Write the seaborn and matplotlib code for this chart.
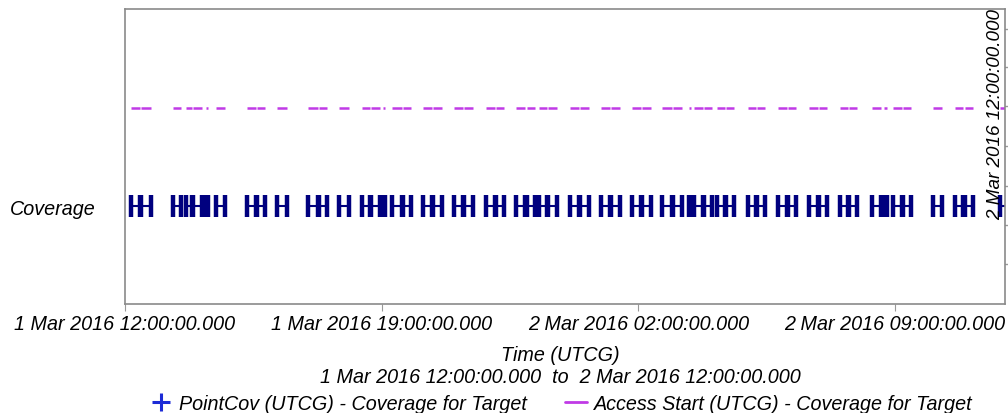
import matplotlib
matplotlib.use('Agg')
import matplotlib.pyplot as plt
import matplotlib.dates as mdates
from matplotlib.lines import Line2D
from matplotlib.ticker import FuncFormatter, FixedLocator
import pandas as pd
import seaborn as sns

# coverage intervals, hours after 1 Mar 2016 12:00 UTCG
cov_start = [0.16, 0.44, 1.31, 1.66, 1.85, 2.21, 2.48, 3.33, 3.60, 4.15,
             4.99, 5.29, 5.84, 6.46, 6.71, 7.04, 7.28, 7.58, 8.13, 8.40,
             8.97, 9.25, 9.85, 10.12, 10.66, 10.96, 11.29, 11.54, 12.14, 12.41,
             12.98, 13.25, 13.83, 14.10, 14.65, 14.95, 15.38, 15.52, 15.79, 16.15,
             16.39, 16.99, 17.24, 17.81, 18.08, 18.65, 18.93, 19.50, 19.75, 20.37,
             20.70, 20.95, 21.22, 22.04, 22.64, 22.91, 23.86]
cov_stop = [0.41, 0.71, 1.53, 1.83, 2.10, 2.26, 2.73, 3.57, 3.82, 4.42,
            5.26, 5.51, 6.11, 6.68, 6.95, 7.09, 7.55, 7.80, 8.37, 8.65,
            9.22, 9.49, 10.09, 10.34, 10.91, 11.18, 11.51, 11.78, 12.38, 12.65,
            13.23, 13.50, 14.07, 14.35, 14.92, 15.19, 15.44, 15.76, 16.01, 16.36,
            16.61, 17.21, 17.45, 18.05, 18.30, 18.90, 19.15, 19.72, 19.96, 20.62,
            20.78, 21.19, 21.44, 22.28, 22.85, 23.13, 24.10]

t0 = pd.Timestamp('2016-03-01 12:00:00')
t1 = pd.Timestamp('2016-03-02 12:00:00')
tick_times = pd.date_range(t0, periods=4, freq='7h')

df = pd.DataFrame({
    'start': t0 + pd.to_timedelta(cov_start, unit='h'),
    'stop': t0 + pd.to_timedelta(cov_stop, unit='h'),
})

sns.set_style('white')
plt.rcParams['font.family'] = ['Liberation Sans', 'DejaVu Sans']
plt.rcParams['font.style'] = 'italic'
plt.rcParams['text.color'] = 'black'
plt.rcParams['xtick.color'] = 'black'
plt.rcParams['ytick.color'] = 'black'
fs = 14.2

fig = plt.figure(figsize=(10.08, 4.14), dpi=100)
ax = fig.add_axes([0.124, 0.263, 0.873, 0.713])

cov_y = 0.332
acc_y = 0.665
navy = '#00007f'
magenta = '#c03ae6'

ax.hlines([cov_y] * len(df), df['start'], df['stop'], color=navy, lw=1.5)
edges = pd.concat([df['start'], df['stop']])
ax.plot(edges, [cov_y] * len(edges), ls='none', marker='|', ms=15.5,
        mew=3.2, color=navy)
ax.hlines([acc_y] * len(df), df['start'], df['stop'], color=magenta, lw=1.8,
          capstyle='butt')

ax.set_xlim(t0, t1)
ax.set_ylim(0, 1)
ax.xaxis.set_major_locator(FixedLocator(mdates.date2num(tick_times)))


def fmt(x, pos):
    d = mdates.num2date(x)
    return f"{d.day} {d:%b %Y %H:%M:%S}.000"


ax.xaxis.set_major_formatter(FuncFormatter(fmt))
ax.tick_params(axis='x', length=5, color='#999999', labelcolor='black',
               labelsize=fs, pad=2, bottom=True)
ax.set_yticks([cov_y])
ax.set_yticklabels(['Coverage'], fontsize=fs)
ax.tick_params(axis='y', length=0, pad=21, labelcolor='black')
for s in ax.spines.values():
    s.set_color('#8a8a8a')
    s.set_linewidth(1.2)

# right-edge time label of the secondary axis
ax.text(0.989, 0.647, '2 Mar 2016 12:00:00.000', transform=ax.transAxes,
        rotation=90, ha='center', va='center', fontsize=13.6)
for yy in [0.932, 0.803, 0.671, 0.536, 0.400, 0.268, 0.136]:
    ax.plot([1.0, 1.004], [yy, yy], transform=ax.transAxes, color='#999999',
            lw=1, clip_on=False)

fig.text(0.556, 0.142, 'Time (UTCG)', ha='center', va='center', fontsize=fs)
fig.text(0.556, 0.089,
         '1 Mar 2016 12:00:00.000  to  2 Mar 2016 12:00:00.000',
         ha='center', va='center', fontsize=fs)

handles = [
    Line2D([], [], color='#1c2bd6', marker='+', ls='none', ms=13, mew=2.2),
    Line2D([], [], color=magenta, lw=2),
]
fig.legend(handles, ['PointCov (UTCG) - Coverage for Target',
                     'Access Start (UTCG) - Coverage for Target'],
           loc='center', bbox_to_anchor=(0.557, 0.024), ncol=2, frameon=False,
           fontsize=fs, columnspacing=1.9, handlelength=1.1,
           handletextpad=0.4, borderpad=0)

fig.savefig('out.png', dpi=100)
